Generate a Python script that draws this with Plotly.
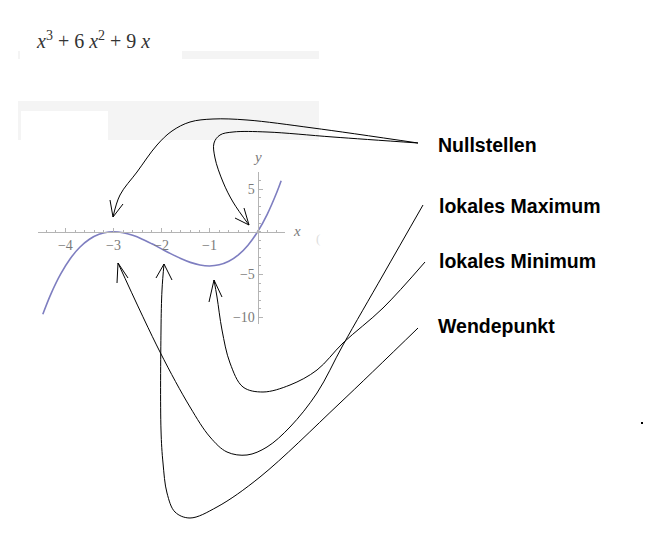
import plotly.graph_objects as go

# ---------------- data: the cubic x^3 + 6x^2 + 9x ----------------
curve_x = [-4.47, -4.3, -4.1, -3.9, -3.7, -3.5, -3.3, -3.1, -3.0, -2.8, -2.6, -2.4, -2.2,
           -2.0, -1.8, -1.6, -1.4, -1.2, -1.0, -0.8, -0.6, -0.4, -0.2, 0.0, 0.2, 0.4, 0.49]
curve_y = [-9.659, -7.267, -4.961, -3.159, -1.813, -0.875, -0.297, -0.031, 0.0, -0.112,
           -0.416, -0.864, -1.408, -2.0, -2.592, -3.136, -3.584, -3.888, -4.0, -3.872,
           -3.456, -2.704, -1.568, 0.0, 2.048, 4.624, 5.968]

x_tick_vals = [-4, -3, -2, -1]
x_tick_text = ["\u22124", "\u22123", "\u22122", "\u22121"]
y_tick_vals = [5, -5, -10]
y_tick_text = ["5", "\u22125", "\u221210"]

formula_text = "<i>x</i><sup>3</sup> + 6 <i>x</i><sup>2</sup> + 9 <i>x</i>"
label_texts = ["Nullstellen", "lokales Maximum", "lokales Minimum", "Wendepunkt"]

# ---------------- layout geometry (pixels in a 645x550 page) ----------------
W, H = 645, 550
X_RANGE = [-4.57, 0.57]
Y_RANGE = [-10.8, 7.0]
x_dom = [38 / W, 285 / W]
y_dom = [(H - 324) / H, (H - 172) / H]
x_axis_pos = y_dom[0] + (0 - Y_RANGE[0]) / (Y_RANGE[1] - Y_RANGE[0]) * (y_dom[1] - y_dom[0])
y_axis_pos = x_dom[0] + (0 - X_RANGE[0]) / (X_RANGE[1] - X_RANGE[0]) * (x_dom[1] - x_dom[0])

AXIS_COL = "#b4b4b4"
TICK_FONT = dict(family="Liberation Serif", size=14, color="#7a7a7a")

# hand-drawn annotation strokes (page pixels)
strokes = {
    "null_a": [(418, 143), (313, 128), (247, 120), (213, 119), (190, 122), (172, 131),
               (157, 145), (137, 172), (120, 195), (113, 217)],
    "null_b": [(418, 143), (333, 137), (267, 132), (233, 132), (220, 135), (214, 143),
               (215, 158), (223, 182), (233, 202), (249, 225)],
    "max": [(423, 205), (383, 275), (343, 345), (317, 393), (290, 427), (267, 447),
            (247, 455), (227, 452), (210, 437), (190, 407), (160, 352), (118, 263)],
    "min": [(425, 262), (383, 308), (343, 343), (317, 370), (290, 385), (263, 392),
            (243, 387), (230, 363), (222, 330), (217, 297), (214, 280)],
    "wende": [(418, 328), (340, 403), (260, 477), (217, 507), (190, 518), (175, 512),
              (167, 493), (163, 463), (161, 430), (161, 330), (162, 290), (164, 264)],
}
barbs = [
    [(110, 200), (113, 217), (123, 204)],
    [(235, 218), (249, 225), (244, 208)],
    [(117, 283), (118, 263), (128, 278)],
    [(209, 302), (214, 280), (222, 297)],
    [(156, 278), (164, 264), (172, 280)],
]

fig = go.Figure()

fig.add_trace(go.Scatter(
    x=curve_x, y=curve_y, mode="lines",
    line=dict(color="#7e7ec0", width=1.6, shape="spline"),
    hoverinfo="skip", showlegend=False, xaxis="x", yaxis="y"))

for pts in strokes.values():
    fig.add_trace(go.Scatter(
        x=[p[0] for p in pts], y=[p[1] for p in pts], mode="lines",
        line=dict(color="black", width=1, shape="spline", smoothing=1.0),
        hoverinfo="skip", showlegend=False, xaxis="x2", yaxis="y2"))
for pts in barbs:
    fig.add_trace(go.Scatter(
        x=[p[0] for p in pts], y=[p[1] for p in pts], mode="lines",
        line=dict(color="black", width=1),
        hoverinfo="skip", showlegend=False, xaxis="x2", yaxis="y2"))

# stray dot on the right
fig.add_trace(go.Scatter(x=[642], y=[423], mode="markers",
                         marker=dict(size=2, color="black", symbol="square"),
                         hoverinfo="skip", showlegend=False, xaxis="x2", yaxis="y2"))

shapes = [
    dict(type="rect", x0=182, x1=319, y0=51, y1=59),
    dict(type="rect", x0=18, x1=20, y0=51, y1=59),
    dict(type="rect", x0=18, x1=319, y0=101, y1=140),
]
shape_list = [dict(s, xref="x2", yref="y2", line=dict(width=0), fillcolor="#f4f4f4", layer="below")
              for s in shapes]
shape_list.append(dict(type="rect", x0=21, x1=108, y0=111, y1=140, xref="x2", yref="y2",
                       line=dict(width=0), fillcolor="white", layer="below"))

annotations = [
    dict(x=34, y=40, text=formula_text, xanchor="left", yanchor="middle",
         font=dict(family="Liberation Serif", size=20, color="#333333")),
    dict(x=297, y=231, text="<i>x</i>", xanchor="center", yanchor="middle",
         font=dict(family="Liberation Serif", size=15, color="#7a7a7a")),
    dict(x=257, y=157, text="<i>y</i>", xanchor="center", yanchor="middle",
         font=dict(family="Liberation Serif", size=15, color="#7a7a7a")),
    dict(x=318, y=238, text="(", xanchor="center", yanchor="middle",
         font=dict(family="Liberation Serif", size=13, color="#dddddd")),
]
label_pos = [(436, 145), (437, 206), (437, 261), (436, 326)]
for t, (lx, ly) in zip(label_texts, label_pos):
    annotations.append(dict(x=lx, y=ly, text="<b>" + t + "</b>", xanchor="left", yanchor="middle",
                            font=dict(family="Liberation Sans", size=19.5, color="black")))
for a in annotations:
    a.update(xref="x2", yref="y2", showarrow=False)

fig.update_layout(
    width=W, height=H, margin=dict(l=0, r=0, t=0, b=0),
    paper_bgcolor="white", plot_bgcolor="rgba(0,0,0,0)",
    xaxis=dict(domain=x_dom, range=X_RANGE, anchor="free", position=x_axis_pos,
               showline=True, linecolor=AXIS_COL, linewidth=1, zeroline=False, showgrid=False,
               tickmode="array", tickvals=x_tick_vals, ticktext=x_tick_text,
               ticks="inside", ticklen=4, tickcolor=AXIS_COL, tickfont=TICK_FONT,
               minor=dict(ticks="inside", ticklen=2, tick0=0, dtick=0.2, tickcolor=AXIS_COL,
                          showgrid=False),
               fixedrange=True),
    yaxis=dict(domain=y_dom, range=Y_RANGE, anchor="free", position=y_axis_pos,
               showline=True, linecolor=AXIS_COL, linewidth=1, zeroline=False, showgrid=False,
               tickmode="array", tickvals=y_tick_vals, ticktext=y_tick_text,
               ticks="inside", ticklen=4, tickcolor=AXIS_COL, tickfont=TICK_FONT,
               minor=dict(ticks="inside", ticklen=2, tick0=0, dtick=1, tickcolor=AXIS_COL,
                          showgrid=False),
               fixedrange=True),
    xaxis2=dict(domain=[0, 1], range=[0, W], anchor="y2", visible=False, fixedrange=True),
    yaxis2=dict(domain=[0, 1], range=[H, 0], anchor="x2", visible=False, fixedrange=True),
    shapes=shape_list,
    annotations=annotations,
)

fig.write_html("out.html", config={"displayModeBar": False, "staticPlot": True},
               post_script="document.body.style.margin='0';document.body.style.overflow='hidden';")
